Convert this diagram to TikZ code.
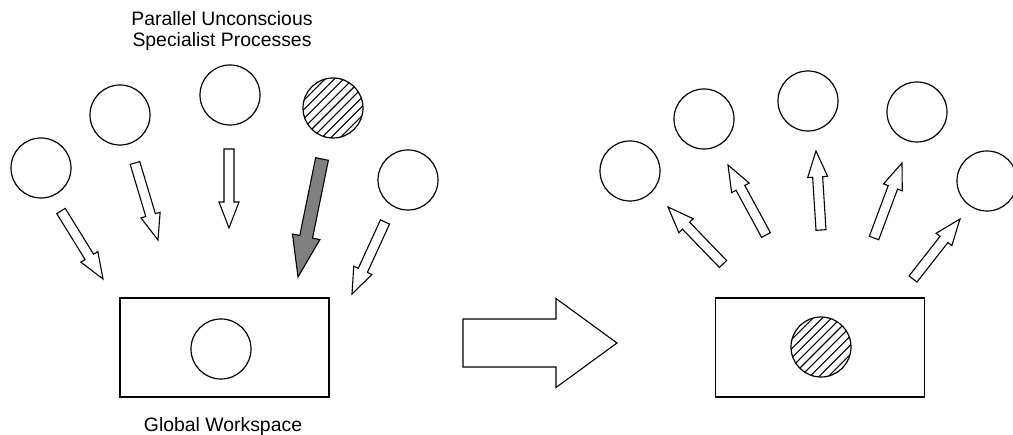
\documentclass[tikz,border=0pt]{standalone}
\usepackage{fontspec}
\setmainfont{Liberation Sans}
\usetikzlibrary{calc}

\tikzset{
  proc/.style={circle, draw, line width=1.2pt, minimum size=60pt, inner sep=0pt},
  hatched/.style={path picture={
      \foreach \k in {-6,...,6}
        \draw[line width=1.1pt] ([shift={(\k*9.2-40,40)}]path picture bounding box.center) -- ++(80,-80);
    }},
  workspace/.style={draw, line width=1.3pt, minimum width=209pt, minimum height=99pt, inner sep=0pt},
  caption/.style={font=\fontsize{19.4}{21.5}\selectfont, align=center, inner sep=0pt}
}

% block arrow: [fill]{from}{to}{shaft half width}{head half width}{head length}
\newcommand{\blockarrow}[6][white]{%
  \coordinate (hb) at ($(#3)!#6!(#2)$);
  \draw[line width=1.1pt, fill=#1] ($(#2)!#4!90:(#3)$) -- ($(hb)!#4!90:(#3)$) -- ($(hb)!#5!90:(#3)$)
    -- (#3) -- ($(hb)!#5!-90:(#3)$) -- ($(hb)!#4!-90:(#3)$) -- ($(#2)!#4!-90:(#3)$) -- cycle;
}

\begin{document}
\begin{tikzpicture}[x=1pt, y=-1pt]
			\useasboundingbox (0,0) rectangle (1013,435);
			
			\node[caption] (title) at (222,31) {Parallel Unconscious\\Specialist Processes};
			\node[caption] (gwlabel) at (223,426) {Global Workspace};
			
			\node[proc] (c1) at (41,168) {};
			\node[proc] (c2) at (120,115) {};
			\node[proc] (c3) at (230,95) {};
			\node[proc, hatched] (c4) at (333,108) {};
			\node[proc] (c5) at (408,180) {};
			
			\node[workspace] (gw) at (224.5,347.5) {};
			\node[proc] (gwc) at (221,349) {};
			
			\coordinate (a1t) at (61,211);  \coordinate (a1h) at (103,279);
			\coordinate (a2t) at (135,163); \coordinate (a2h) at (158,240);
			\coordinate (a3t) at (229,149); \coordinate (a3h) at (229,228);
			\coordinate (a4t) at (322,159); \coordinate (a4h) at (298,277);
			\coordinate (a5t) at (385,222); \coordinate (a5h) at (352,294);
			\blockarrow{a1t}{a1h}{5pt}{10pt}{26pt}
			\blockarrow{a2t}{a2h}{5pt}{10pt}{26pt}
			\blockarrow{a3t}{a3h}{5pt}{10pt}{26pt}
			\blockarrow[gray]{a4t}{a4h}{6.5pt}{14pt}{41pt}
			\blockarrow{a5t}{a5h}{5pt}{10pt}{26pt}
			
			\coordinate (bigt) at (463,343); \coordinate (bigh) at (617,343);
			\blockarrow{bigt}{bigh}{24pt}{44.5pt}{61pt}
			
			\node[proc] (r1) at (630,171) {};
			\node[proc] (r2) at (704,119) {};
			\node[proc] (r3) at (808,101) {};
			\node[proc] (r4) at (917,112) {};
			\node[proc] (r5) at (987,181) {};
			
			\node[workspace] (rgw) at (820,347.5) {};
			\node[proc, hatched] (rgwc) at (821,347) {};
			
			\coordinate (b1t) at (723,264); \coordinate (b1h) at (668,207);
			\coordinate (b2t) at (766,235); \coordinate (b2h) at (728,165);
			\coordinate (b3t) at (821,230); \coordinate (b3h) at (816,151);
			\coordinate (b4t) at (874,238); \coordinate (b4h) at (902,163);
			\coordinate (b5t) at (913,279); \coordinate (b5h) at (960,219);
			\blockarrow{b1t}{b1h}{5pt}{10pt}{26pt}
			\blockarrow{b2t}{b2h}{5pt}{10pt}{26pt}
			\blockarrow{b3t}{b3h}{5pt}{10pt}{26pt}
			\blockarrow{b4t}{b4h}{5pt}{10pt}{26pt}
			\blockarrow{b5t}{b5h}{5pt}{10pt}{26pt}
		\end{tikzpicture}
\end{document}
